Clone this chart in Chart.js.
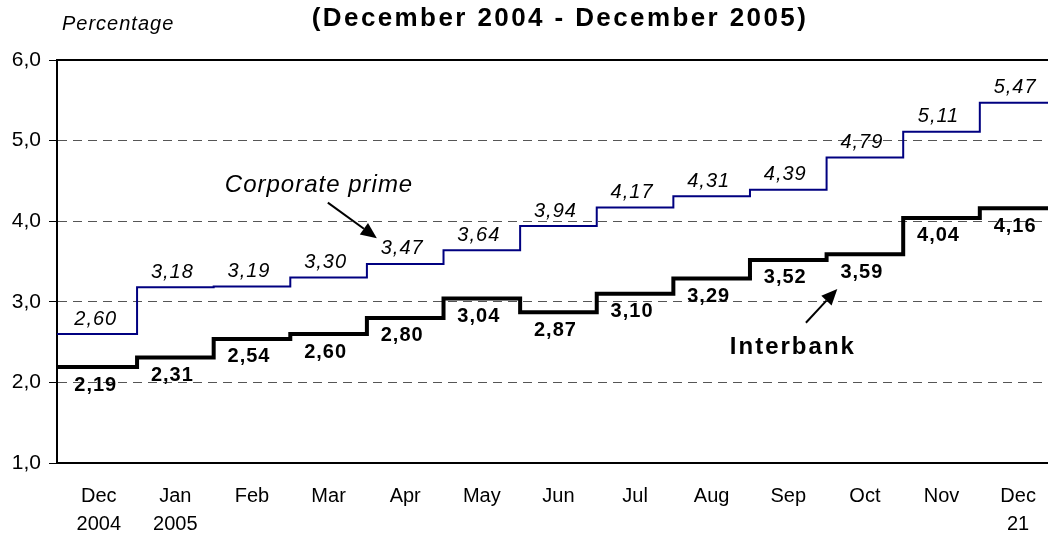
<!DOCTYPE html>
<html>
<head>
<meta charset="utf-8">
<script src="https://cdn.jsdelivr.net/npm/chart.js@4/dist/chart.umd.min.js"></script>
<style>
  html, body { margin: 0; padding: 0; background: #fff; }
  #wrap { width: 1048px; height: 535px; }
</style>
</head>
<body>
<div id="wrap"><canvas id="rateChart" width="1048" height="535"></canvas></div>
<script>
// Data
const monthLabels = [
    ['Dec', '2004'], ['Jan', '2005'], 'Feb', 'Mar', 'Apr', 'May', 'Jun',
    'Jul', 'Aug', 'Sep', 'Oct', 'Nov', ['Dec', '21']
];
const corporatePrime = [2.60, 3.18, 3.19, 3.30, 3.47, 3.64, 3.94, 4.17, 4.31, 4.39, 4.79, 5.11, 5.47];
const interbank = [2.19, 2.31, 2.54, 2.60, 2.80, 3.04, 2.87, 3.10, 3.29, 3.52, 3.59, 4.04, 4.16];
const yTicks = [1, 2, 3, 4, 5, 6];

const X_MIN = -0.545;
const X_MAX = 12.39;

// each month becomes a flat segment starting half a month before its label
function toSteps(values) {
    const pts = values.map((v, i) => ({ x: i - 0.5, y: v }));
    pts[0].x = X_MIN;
    pts.push({ x: X_MAX, y: values[values.length - 1] });
    return pts;
}

function fmt(v) {
    return v.toFixed(2).replace('.', ',');
}

// text, arrows and the top frame line
const overlayPlugin = {
    id: 'overlay',
    afterDatasetsDraw(chart) {
        const c = chart.ctx;
        const xs = chart.scales.x;
        const ys = chart.scales.y;
        const area = chart.chartArea;

        c.save();
        // top frame
        c.strokeStyle = '#000';
        c.lineWidth = 2;
        c.beginPath();
        c.moveTo(area.left, area.top);
        c.lineTo(area.right, area.top);
        c.stroke();

        c.textAlign = 'center';
        c.textBaseline = 'middle';
        c.fillStyle = '#000';
        c.letterSpacing = '1px';

        // corporate prime labels (italic, above)
        c.font = 'italic 20px "Liberation Sans", Arial, sans-serif';
        corporatePrime.forEach((v, i) => {
            c.fillText(fmt(v), xs.getPixelForValue(i) - 3, ys.getPixelForValue(v) - 15);
        });

        // interbank labels (bold, below)
        c.font = 'bold 20px "Liberation Sans", Arial, sans-serif';
        interbank.forEach((v, i) => {
            c.fillText(fmt(v), xs.getPixelForValue(i) - 3, ys.getPixelForValue(v) + 18);
        });

        // annotations
        c.textBaseline = 'alphabetic';
        c.font = 'italic 24px "Liberation Sans", Arial, sans-serif';
        c.fillText('Corporate prime', xs.getPixelForValue(2.875), ys.getPixelForValue(4.36));
        c.letterSpacing = '2px';
        c.font = 'bold 24px "Liberation Sans", Arial, sans-serif';
        c.fillText('Interbank', xs.getPixelForValue(9.06), ys.getPixelForValue(2.35));

        drawArrow(c, xs.getPixelForValue(2.99), ys.getPixelForValue(4.23),
            xs.getPixelForValue(3.63), ys.getPixelForValue(3.79));
        drawArrow(c, xs.getPixelForValue(9.23), ys.getPixelForValue(2.74),
            xs.getPixelForValue(9.64), ys.getPixelForValue(3.16));

        // title and unit
        c.letterSpacing = '2.4px';
        c.textAlign = 'center';
        c.font = 'bold 26px "Liberation Sans", Arial, sans-serif';
        c.fillText('(December 2004 - December 2005)', 560, 26);
        c.letterSpacing = '1px';
        c.textAlign = 'left';
        c.font = 'italic 20px "Liberation Sans", Arial, sans-serif';
        c.fillText('Percentage', 62, 30);
        c.restore();
    }
};

function drawArrow(c, x1, y1, x2, y2) {
    const ang = Math.atan2(y2 - y1, x2 - x1);
    const len = 16, half = 7;
    const bx = x2 - len * Math.cos(ang);
    const by = y2 - len * Math.sin(ang);
    c.strokeStyle = '#000';
    c.lineWidth = 2;
    c.beginPath();
    c.moveTo(x1, y1);
    c.lineTo(bx, by);
    c.stroke();
    c.beginPath();
    c.moveTo(x2, y2);
    c.lineTo(bx + half * Math.sin(ang), by - half * Math.cos(ang));
    c.lineTo(bx - half * Math.sin(ang), by + half * Math.cos(ang));
    c.closePath();
    c.fill();
}

const ctx = document.getElementById('rateChart').getContext('2d');
const rateChart = new Chart(ctx, {
    type: 'line',
    data: {
        datasets: [
            {
                label: 'Corporate prime',
                data: toSteps(corporatePrime),
                borderColor: '#000080',
                borderWidth: 2,
                stepped: 'before',
                pointRadius: 0,
                fill: false
            },
            {
                label: 'Interbank',
                data: toSteps(interbank),
                borderColor: '#000',
                borderWidth: 4,
                stepped: 'before',
                pointRadius: 0,
                fill: false
            }
        ]
    },
    options: {
        responsive: false,
        animation: false,
        layout: { padding: { top: 60, left: 0, right: 0, bottom: 0 } },
        plugins: {
            legend: { display: false },
            tooltip: { enabled: false },
            title: { display: false }
        },
        scales: {
            x: {
                type: 'linear',
                min: X_MIN,
                max: X_MAX,
                afterBuildTicks: (scale) => {
                    scale.ticks = monthLabels.map((_, i) => ({ value: i }));
                },
                afterFit: (scale) => {
                    scale.height = 72;
                    scale.paddingRight = 0;
                },
                grid: { display: false },
                border: { display: true, color: '#000', width: 2 },
                ticks: {
                    autoSkip: false,
                    maxRotation: 0,
                    padding: 11,
                    color: '#000',
                    font: { family: '"Liberation Sans", Arial, sans-serif', size: 20, lineHeight: 1.4 },
                    callback: (value) => monthLabels[value]
                }
            },
            y: {
                min: 1,
                max: 6,
                afterBuildTicks: (scale) => {
                    scale.ticks = yTicks.map(v => ({ value: v }));
                },
                afterFit: (scale) => { scale.width = 57; },
                grid: {
                    color: (c) => (c.tick && (c.tick.value === 1 || c.tick.value === 6)) ? 'rgba(0,0,0,0)' : '#555',
                    lineWidth: 1,
                    tickColor: '#000',
                    tickLength: 8
                },
                border: { display: true, color: '#000', width: 2, dash: [9, 6] },
                ticks: {
                    padding: 8,
                    color: '#000',
                    font: { family: '"Liberation Sans", Arial, sans-serif', size: 21 },
                    callback: (value) => value.toFixed(1).replace('.', ',')
                }
            }
        }
    },
    plugins: [overlayPlugin]
});
</script>
</body>
</html>
